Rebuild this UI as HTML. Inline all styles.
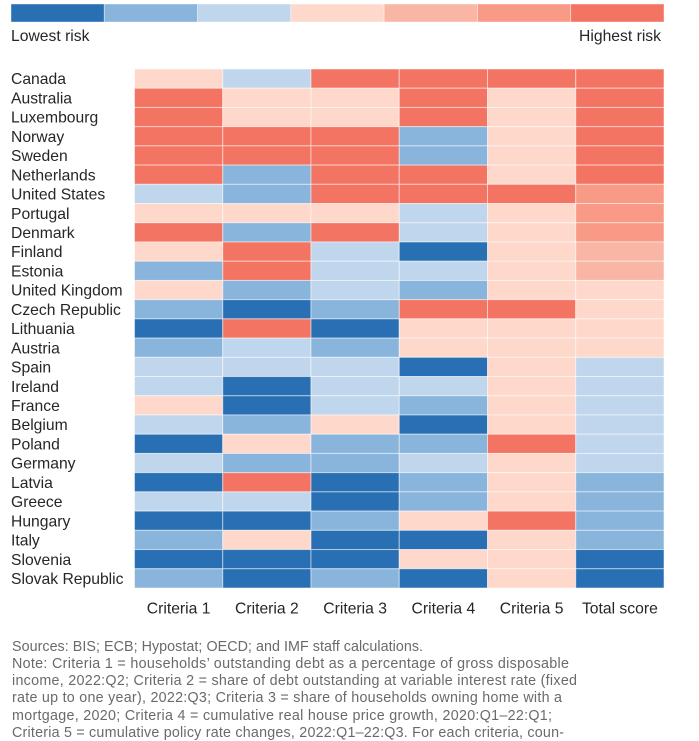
<!DOCTYPE html>
<html lang="en">
<head>
<meta charset="utf-8">
<title>Housing risk heatmap</title>
<style>
html,body{margin:0;padding:0;background:#fff;}
body{width:699px;height:741px;overflow:hidden;}
svg{display:block;font-family:"Liberation Sans",sans-serif;}
.lab{font-size:15.7px;fill:#262626;}
.note{font-size:14.3px;fill:#6a6a6a;}
</style>
</head>
<body>
<svg id="chart" width="699" height="741" viewBox="0 0 699 741" xmlns="http://www.w3.org/2000/svg">
  <g id="legend"></g>
  <text class="lab" x="11" y="41">Lowest risk</text>
  <text class="lab" x="661" y="41" text-anchor="end">Highest risk</text>
  <g id="cells"></g>
  <g id="rowLabels"></g>
  <g id="colLabels"></g>
  <g>
    <text class="note" x="12" y="651" textLength="411">Sources: BIS; ECB; Hypostat; OECD; and IMF staff calculations.</text>
    <text class="note" x="12" y="668" textLength="557">Note: Criteria 1 = households’ outstanding debt as a percentage of gross disposable</text>
    <text class="note" x="12" y="685" textLength="565">income, 2022:Q2; Criteria 2 = share of debt outstanding at variable interest rate (fixed</text>
    <text class="note" x="12" y="702" textLength="550">rate up to one year), 2022:Q3; Criteria 3 = share of households owning home with a</text>
    <text class="note" x="12" y="720" textLength="540">mortgage, 2020; Criteria 4 = cumulative real house price growth, 2020:Q1–22:Q1;</text>
    <text class="note" x="12" y="737" textLength="552">Criteria 5 = cumulative policy rate changes, 2022:Q1–22:Q3. For each criteria, coun-</text>
  </g>
</svg>
<script>
const countries = ["Canada","Australia","Luxembourg","Norway","Sweden","Netherlands","United States","Portugal","Denmark","Finland","Estonia","United Kingdom","Czech Republic","Lithuania","Austria","Spain","Ireland","France","Belgium","Poland","Germany","Latvia","Greece","Hungary","Italy","Slovenia","Slovak Republic"];
const criteria = ["Criteria 1","Criteria 2","Criteria 3","Criteria 4","Criteria 5","Total score"];
const riskLevels = [1,2,3,4,5,6,7];
const criteria1 = [4,7,7,7,7,7,3,4,7,4,2,4,2,1,2,3,3,4,3,1,3,1,3,1,2,1,2];
const criteria2 = [3,4,4,7,7,2,2,4,2,7,7,2,1,7,3,3,1,1,2,4,2,7,3,1,4,1,1];
const criteria3 = [7,4,4,7,7,7,7,4,7,3,3,3,2,1,2,3,3,3,4,2,2,1,1,2,1,1,2];
const criteria4 = [7,7,7,2,2,7,7,3,3,1,3,2,7,4,4,1,3,2,1,2,3,2,2,4,1,4,1];
const criteria5 = [7,4,4,4,4,4,7,4,4,4,4,4,7,4,4,4,4,4,4,7,4,4,4,7,4,4,4];
const totalScore = [7,7,7,7,7,7,6,6,6,5,5,4,4,4,4,3,3,3,3,3,3,2,2,2,2,1,1];
const seriesList = [criteria1,criteria2,criteria3,criteria4,criteria5,totalScore];

const NS = "http://www.w3.org/2000/svg";
const palette = {1:"#2870b3",2:"#89b4dc",3:"#c0d6ec",4:"#fed8ca",5:"#f9b6a5",6:"#f89a86",7:"#f47463"};
const plot = {x:134.5,y:69,w:529.5,h:519};
const legendBox = {x:11,y:4,w:653,h:18};
const xCol = i => plot.x + i * plot.w / criteria.length;
const yRow = i => plot.y + i * plot.h / countries.length;
const xLegend = i => legendBox.x + i * legendBox.w / riskLevels.length;

function make(tag, attrs, parent){
  const el = document.createElementNS(NS, tag);
  for (const k in attrs) el.setAttribute(k, attrs[k]);
  parent.appendChild(el);
  return el;
}

const legendG = document.getElementById("legend");
riskLevels.forEach((lvl,i)=>{
  const r = make("rect",{x:xLegend(i),y:legendBox.y,width:legendBox.w/riskLevels.length,height:legendBox.h,fill:palette[lvl],stroke:"#fff","stroke-opacity":0.5,"stroke-width":0.8},legendG);
  
  
});

const cellsG = document.getElementById("cells");
seriesList.forEach((series,c)=>{
  series.forEach((val,r)=>{
    const rect = make("rect",{x:xCol(c),y:yRow(r),width:plot.w/criteria.length,height:plot.h/countries.length,fill:palette[val],stroke:"#fff","stroke-opacity":0.5,"stroke-width":1},cellsG);
    
    
  });
});

const rowG = document.getElementById("rowLabels");
countries.forEach((name,i)=>{
  const t = make("text",{class:"lab",x:11,y:yRow(i)+plot.h/countries.length/2+5.6},rowG);
  t.textContent = name;
  
  
});

const colG = document.getElementById("colLabels");
criteria.forEach((name,i)=>{
  const t = make("text",{class:"lab",x:xCol(i)+plot.w/criteria.length/2,y:613.5,"text-anchor":"middle"},colG);
  t.textContent = name;
  
  
});
</script>
</body>
</html>
